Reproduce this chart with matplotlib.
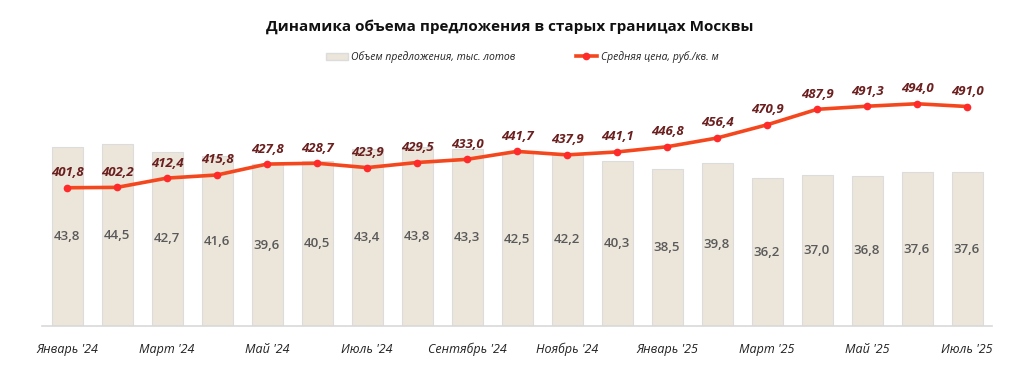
import matplotlib
matplotlib.use("Agg")
import matplotlib.pyplot as plt
from matplotlib.lines import Line2D
from matplotlib.patches import Patch

months = ["Январь '24", "Февраль '24", "Март '24", "Апрель '24", "Май '24", "Июнь '24",
          "Июль '24", "Август '24", "Сентябрь '24", "Октябрь '24", "Ноябрь '24", "Декабрь '24",
          "Январь '25", "Февраль '25", "Март '25", "Апрель '25", "Май '25", "Июнь '25", "Июль '25"]
volume = [43.8, 44.5, 42.7, 41.6, 39.6, 40.5, 43.4, 43.8, 43.3, 42.5, 42.2, 40.3,
          38.5, 39.8, 36.2, 37.0, 36.8, 37.6, 37.6]
price = [401.8, 402.2, 412.4, 415.8, 427.8, 428.7, 423.9, 429.5, 433.0, 441.7, 437.9, 441.1,
         446.8, 456.4, 470.9, 487.9, 491.3, 494.0, 491.0]

plt.rcParams['font.family'] = ['Open Sans', 'DejaVu Sans']

fig = plt.figure(figsize=(10.36, 3.72), dpi=100)
ax = fig.add_axes([42/1036, 46/372, 950/1036, 245/372])
x = list(range(len(months)))

ax.bar(x, volume, width=0.62, color='#ebe5da', edgecolor='#dcdcdc', linewidth=0.8, zorder=1)
for xi, v in zip(x, volume):
    ax.text(xi, v/2, f"{v:.1f}".replace('.', ','), ha='center', va='center',
            fontsize=9.5, fontweight='semibold', color='#595959', zorder=3)
ax.set_ylim(0, 60)
ax.set_xlim(-0.5, len(months)-0.5)
ax.set_yticks([])
for s in ['top', 'right', 'left']:
    ax.spines[s].set_visible(False)
ax.spines['bottom'].set_color('#d9d9d9')
ax.spines['bottom'].set_linewidth(1.2)
ax.set_xticks(x[::2])
ax.set_xticklabels(months[::2], fontstyle='italic', fontsize=9, color='#222222')
ax.tick_params(axis='x', length=0, pad=12)

ax2 = ax.twinx()
ax2.plot(x, price, color='#f4471e', linewidth=2.6, marker='o', markersize=4.5,
         markerfacecolor='#ff2a2a', markeredgecolor='#ff2a2a', zorder=4)
for xi, p in zip(x, price):
    ax2.text(xi, p + 16.5, f"{p:.1f}".replace('.', ','), ha='center', va='center',
             fontsize=9.5, fontweight='bold', fontstyle='italic', color='#6b1f1f')
ax2.set_ylim(250, 519)
ax2.set_yticks([])
for s in ['top', 'right', 'left', 'bottom']:
    ax2.spines[s].set_visible(False)

fig.text(510/1036, 1 - 27/372, "Динамика объема предложения в старых границах Москвы",
         ha='center', va='center', fontsize=11, fontweight='bold', color='#111111')

handles = [Patch(facecolor='#ebe5da', edgecolor='#dcdcdc'),
           Line2D([0], [0], color='#f4471e', linewidth=2.6, marker='o', markersize=4.5,
                  markerfacecolor='#ff2a2a', markeredgecolor='#ff2a2a')]
labels = ["Объем предложения, тыс. лотов", "Средняя цена, руб./кв. м"]
leg = fig.legend(handles, labels, loc='center', bbox_to_anchor=(522/1036, 1 - 57/372),
                 ncol=2, frameon=False, prop={'style': 'italic', 'size': 7.5},
                 columnspacing=5.8, handlelength=2.1, handletextpad=0.3)
for t in leg.get_texts():
    t.set_color('#222222')

fig.savefig('out.png', dpi=100)
